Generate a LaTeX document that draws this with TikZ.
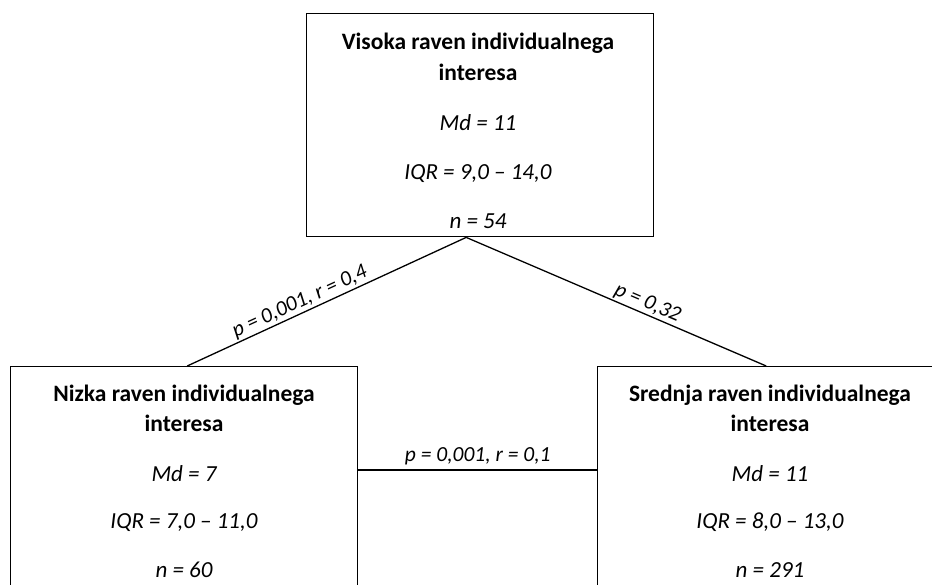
\documentclass[tikz,border=0pt]{standalone}
\usepackage{fontspec}
\setmainfont{Carlito}
\begin{document}
\begin{tikzpicture}[x=1pt,y=-1pt,
  box/.style={draw, line width=1.4pt, minimum width=347pt, anchor=north west, inner sep=0pt},
  title/.style={font=\fontsize{23.5}{23.5}\selectfont\bfseries, anchor=base},
  stat/.style={font=\fontsize{23}{23}\selectfont\itshape, anchor=base},
  link/.style={line width=1.3pt},
  lab/.style={font=\fontsize{21.5}{21.5}\selectfont\itshape, sloped, above, inner sep=1.5pt}]
\useasboundingbox (0,0) rectangle (932,584);
\clip (0,0) rectangle (932,584);

% boxes
\node[box, minimum height=223pt] (high) at (306,13) {};
\node[box, minimum height=260pt] (low)  at (10,366) {};
\node[box, minimum height=260pt] (mid)  at (597,366) {};

% upper box text
\node[title] (h1) at (478,49)  {Visoka raven individualnega};
\node[title] (h2) at (478,80)  {interesa};
\node[stat]  (h3) at (478,130) {Md = 11};
\node[stat]  (h4) at (478,179) {IQR = 9,0 – 14,0};
\node[stat]  (h5) at (478,228) {n = 54};

% lower left box text
\node[title] (l1) at (184,401) {Nizka raven individualnega};
\node[title] (l2) at (184,431) {interesa};
\node[stat]  (l3) at (184,481) {Md = 7};
\node[stat]  (l4) at (184,528) {IQR = 7,0 – 11,0};
\node[stat]  (l5) at (184,577) {n = 60};

% lower right box text
\node[title] (m1) at (770,401) {Srednja raven individualnega};
\node[title] (m2) at (770,431) {interesa};
\node[stat]  (m3) at (770,481) {Md = 11};
\node[stat]  (m4) at (770,528) {IQR = 8,0 – 13,0};
\node[stat]  (m5) at (770,577) {n = 291};

% connectors
\coordinate (apex) at ([xshift=-14pt]high.south);
\draw[link] (apex) -- node[lab, pos=0.58] {p = 0,001, r = 0,4} ([xshift=3pt]low.north);
\draw[link] (apex) -- node[lab, pos=0.59] {p = 0,32} ([xshift=-5pt]mid.north);
\draw[link] ([yshift=-104pt]low.north east) -- node[lab, pos=0.5, inner sep=4pt] {p = 0,001, r = 0,1} ([yshift=-104pt]mid.north west);
\end{tikzpicture}
\end{document}
